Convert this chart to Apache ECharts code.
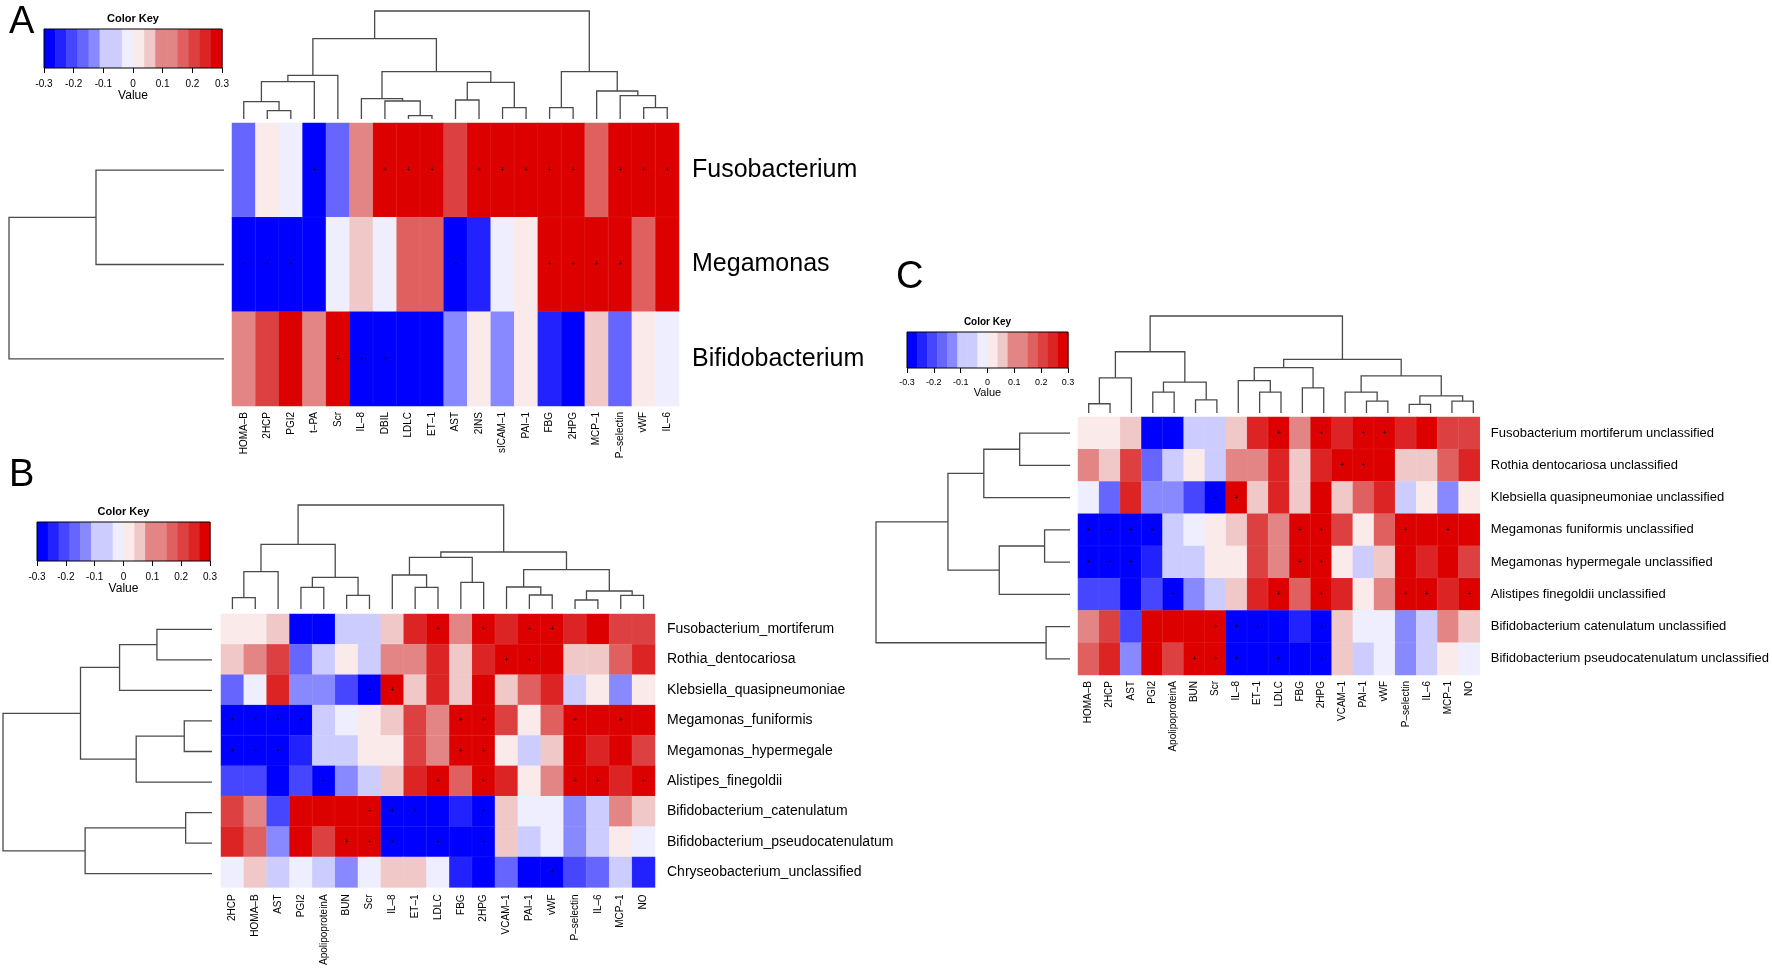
<!DOCTYPE html>
<html><head><meta charset="utf-8">
<script src="https://cdn.jsdelivr.net/npm/echarts@6/dist/echarts.min.js"></script>
<style>html,body{margin:0;padding:0;background:#fff}#c{width:1772px;height:968px}</style>
</head><body><div id="c"></div>
<script>
// ---------------- colour key ----------------
const keyBreaks = [-0.3,-0.2625,-0.225,-0.1875,-0.15,-0.1125,-0.075,-0.0375,0,0.0375,0.075,0.1125,0.15,0.1875,0.225,0.2625,0.3];
const keyColors = ['#0000FF','#2222FF','#4646FF','#6666FF','#8888FF','#CCCCFF','#CCCCFF','#EEEEFF',
                   '#FBEAEA','#F0C8C8','#E38585','#E38585','#E06060','#DC4040','#DC2424','#DD0000'];
const keyTicks = [-0.3,-0.2,-0.1,0,0.1,0.2,0.3];

// ---------------- panel A ----------------
const colsA = ['HOMA–B','2HCP','PGI2','t–PA','Scr','IL–8','DBIL','LDLC','ET–1','AST','2INS','sICAM–1','PAI–1','FBG','2HPG','MCP–1','P–selectin','vWF','IL–6'];
const rowsA = ['Fusobacterium','Megamonas','Bifidobacterium'];
const valA_Fusobacterium   = [-0.17,0.02,-0.02,-0.28,-0.17,0.11,0.28,0.28,0.28,0.21,0.28,0.28,0.28,0.28,0.28,0.17,0.28,0.28,0.28];
const valA_Megamonas       = [-0.28,-0.28,-0.28,-0.28,-0.02,0.06,-0.02,0.17,0.17,-0.28,-0.24,-0.02,0.02,0.28,0.28,0.28,0.28,0.17,0.28];
const valA_Bifidobacterium = [0.11,0.21,0.28,0.11,0.28,-0.28,-0.28,-0.28,-0.28,-0.13,0.02,-0.13,0.02,-0.24,-0.28,0.06,-0.17,0.02,-0.02];
const sigA = ['0001001110111110111','1110000001000111100','0000111000000000000'];
const colTreeA = [[[[[0,[1,2,8.3],17.3],3,37.3],4,43.7],[[5,[6,[7,8,3.3],18],20.3],[[9,10,19],[11,12,11.3],36.7],47.3],80.3],
                  [[13,14,11.3],[15,[16,[17,18,11.3],23.3],28],47.3],108];
const rowTreeA = [[0,1,128],2,215];

// ---------------- panel B ----------------
const colsB = ['2HCP','HOMA–B','AST','PGI2','ApolipoproteinA','BUN','Scr','IL–8','ET–1','LDLC','FBG','2HPG','VCAM–1','PAI–1','vWF','P–selectin','IL–6','MCP–1','NO'];
const rowsB = ['Fusobacterium_mortiferum','Rothia_dentocariosa','Klebsiella_quasipneumoniae','Megamonas_funiformis','Megamonas_hypermegale','Alistipes_finegoldii','Bifidobacterium_catenulatum','Bifidobacterium_pseudocatenulatum','Chryseobacterium_unclassified'];
const valB_Fuso  = [0.02,0.02,0.06,-0.28,-0.28,-0.08,-0.08,0.06,0.24,0.28,0.11,0.28,0.24,0.28,0.28,0.24,0.28,0.21,0.21];
const valB_Roth  = [0.06,0.11,0.21,-0.17,-0.08,0.02,-0.08,0.11,0.11,0.24,0.06,0.24,0.28,0.28,0.28,0.06,0.06,0.17,0.24];
const valB_Kleb  = [-0.17,-0.02,0.24,-0.13,-0.13,-0.21,-0.28,0.28,0.06,0.24,0.06,0.28,0.06,0.17,0.24,-0.08,0.02,-0.13,0.02];
const valB_MegF  = [-0.28,-0.28,-0.28,-0.28,-0.08,-0.02,0.02,0.06,0.21,0.11,0.28,0.28,0.21,0.02,0.17,0.28,0.28,0.28,0.28];
const valB_MegH  = [-0.28,-0.28,-0.28,-0.24,-0.08,-0.08,0.02,0.02,0.21,0.11,0.28,0.28,0.02,-0.08,0.06,0.28,0.24,0.28,0.21];
const valB_Alis  = [-0.21,-0.21,-0.28,-0.21,-0.28,-0.13,-0.08,0.06,0.24,0.28,0.17,0.28,0.24,0.02,0.11,0.28,0.28,0.24,0.28];
const valB_BifC  = [0.21,0.11,-0.21,0.28,0.28,0.28,0.28,-0.28,-0.28,-0.28,-0.24,-0.28,0.06,-0.02,-0.02,-0.13,-0.08,0.11,0.06];
const valB_BifP  = [0.24,0.17,-0.13,0.28,0.21,0.28,0.28,-0.28,-0.28,-0.28,-0.28,-0.28,0.06,-0.08,-0.02,-0.13,-0.08,0.02,-0.02];
const valB_Chry  = [-0.02,0.06,-0.08,-0.02,-0.08,-0.13,-0.02,0.06,0.06,-0.02,-0.24,-0.28,-0.17,-0.28,-0.28,-0.21,-0.17,-0.08,-0.24];
const sigB = ['0000000001010110000','0000000000001100000','0000001100000000000','1111000000110001010','1110000000110000000',
              '0000100001010001101','0000001110010000000','0000011101010000000','0000000000000010000'];
const colTreeB = [[[[0,1,11.3],2,37.3],[[3,4,21.7],[5,6,13.7],31.7],64.7],
                  [[[7,[8,9,21.7],34],[10,11,26.7],51.7],[[12,[13,14,14],22],[[15,16,9],[17,18,13.7],18],39.3],57],104];
const rowTreeB = [[[[0,1,55],2,92.3],[[3,4,27.7],5,75.7],131.3],[[6,7,26.3],8,126.7],208.7];

// ---------------- panel C ----------------
const colsC = ['HOMA–B','2HCP','AST','PGI2','ApolipoproteinA','BUN','Scr','IL–8','ET–1','LDLC','FBG','2HPG','VCAM–1','PAI–1','vWF','P–selectin','IL–6','MCP–1','NO'];
const rowsC = ['Fusobacterium mortiferum unclassified','Rothia dentocariosa unclassified','Klebsiella quasipneumoniae unclassified','Megamonas funiformis unclassified','Megamonas hypermegale unclassified','Alistipes finegoldii unclassified','Bifidobacterium catenulatum unclassified','Bifidobacterium pseudocatenulatum unclassified'];
const valC_Fuso  = [0.02,0.02,0.06,-0.28,-0.28,-0.08,-0.08,0.06,0.24,0.28,0.11,0.28,0.24,0.28,0.28,0.24,0.28,0.21,0.21];
const valC_Roth  = [0.11,0.06,0.21,-0.17,-0.08,0.02,-0.08,0.11,0.11,0.24,0.06,0.24,0.28,0.28,0.28,0.06,0.06,0.17,0.24];
const valC_Kleb  = [-0.02,-0.17,0.24,-0.13,-0.13,-0.21,-0.28,0.28,0.06,0.24,0.06,0.28,0.06,0.17,0.24,-0.08,0.02,-0.13,0.02];
const valC_MegF  = [-0.28,-0.28,-0.28,-0.28,-0.08,-0.02,0.02,0.06,0.21,0.11,0.28,0.28,0.21,0.02,0.17,0.28,0.28,0.28,0.28];
const valC_MegH  = [-0.28,-0.28,-0.28,-0.24,-0.08,-0.08,0.02,0.02,0.21,0.11,0.28,0.28,0.02,-0.08,0.06,0.28,0.24,0.28,0.21];
const valC_Alis  = [-0.21,-0.21,-0.28,-0.21,-0.28,-0.13,-0.08,0.06,0.24,0.28,0.17,0.28,0.24,0.02,0.11,0.28,0.28,0.24,0.28];
const valC_BifC  = [0.11,0.21,-0.21,0.28,0.28,0.28,0.28,-0.28,-0.28,-0.28,-0.24,-0.28,0.06,-0.02,-0.02,-0.13,-0.08,0.11,0.06];
const valC_BifP  = [0.17,0.24,-0.13,0.28,0.21,0.28,0.28,-0.28,-0.28,-0.28,-0.28,-0.28,0.06,-0.08,-0.02,-0.13,-0.08,0.02,-0.02];
const sigC = ['0000000001010110000','0000000000001100000','0000001100000000000','1111000000110001010','1110000000110000000',
              '0000100001010001101','0000001110010000000','0000011101010000000'];
const colTreeC = [[[[0,1,9.3],2,35.3],[[3,4,21],[5,6,13.3],31],61.7],
                  [[[7,[8,9,21],32.7],[10,11,25.3],45.7],[[12,[13,14,12],21],[[15,16,8.7],[17,18,12],17.3],37.3],54],97.7];
const rowTreeC = [[[[0,1,50.5],2,86.5],[[3,4,25.5],5,71],122.5],[6,7,24],194.7];

// ---------------- layout ----------------
const FONT = '"Liberation Sans", Arial, Helvetica, sans-serif';
const panels = [
  {letter:'A', cols:colsA, rows:rowsA, values:[valA_Fusobacterium,valA_Megamonas,valA_Bifidobacterium], sig:sigA,
   colTree:colTreeA, rowTree:rowTreeA,
   L:{heat:{left:232,top:123,width:447,height:283}, colTop:11, colBottom:119, rowLeft:9, rowRight:224,
      key:{left:44,top:29,width:178,height:39}, keyTitleY:19, letterX:9, letterY:23,
      rowFont:25, rowGap:13, colFont:10, colGap:6, tickFont:10, tickGap:11, valueFont:12, valueGap:20, titleFont:11}},
  {letter:'B', cols:colsB, rows:rowsB, values:[valB_Fuso,valB_Roth,valB_Kleb,valB_MegF,valB_MegH,valB_Alis,valB_BifC,valB_BifP,valB_Chry], sig:sigB,
   colTree:colTreeB, rowTree:rowTreeB,
   L:{heat:{left:221,top:614,width:434,height:275}, colTop:505, colBottom:609, rowLeft:3, rowRight:212,
      key:{left:37,top:522,width:173,height:39}, keyTitleY:512, letterX:9, letterY:476,
      rowFont:14, rowGap:12, colFont:10, colGap:7, tickFont:10, tickGap:11, valueFont:12, valueGap:20, titleFont:11}},
  {letter:'C', cols:colsC, rows:rowsC, values:[valC_Fuso,valC_Roth,valC_Kleb,valC_MegF,valC_MegH,valC_Alis,valC_BifC,valC_BifP], sig:sigC,
   colTree:colTreeC, rowTree:rowTreeC,
   L:{heat:{left:1078,top:417,width:406,height:258}, colTop:316, colBottom:413, rowLeft:876, rowRight:1070,
      key:{left:907,top:332,width:161,height:36}, keyTitleY:322, letterX:896, letterY:278,
      rowFont:13, rowGap:11, colFont:10, colGap:6, tickFont:9, tickGap:10, valueFont:11, valueGap:18, titleFont:10}}
];

// ---------------- build ----------------
const grid=[], xAxis=[], yAxis=[], series=[], graphic=[], heatIdx=[];
const LINE = {stroke:'#4a4a4a', lineWidth:1.3, fill:null};

function flatten(tree){
  const segs=[];
  function rec(n){
    if (typeof n === 'number') return {p:n, h:0};
    const a = rec(n[0]), b = rec(n[1]);
    segs.push([a.p, a.h, b.p, b.h, n[2]]);
    return {p:(a.p+b.p)/2, h:n[2]};
  }
  const r = rec(tree);
  return {segs, root:r.h};
}
function hidden(){ return {show:false}; }

panels.forEach(P => {
  const L = P.L, nC = P.cols.length, nR = P.rows.length;
  // heatmap
  grid.push({left:L.heat.left, top:L.heat.top, width:L.heat.width, height:L.heat.height});
  let gi = grid.length-1;
  xAxis.push({gridIndex:gi, type:'category', data:P.cols, position:'bottom',
    axisLine:hidden(), axisTick:hidden(), splitLine:hidden(),
    axisLabel:{rotate:90, interval:0, fontSize:L.colFont, color:'#000', margin:L.colGap, fontFamily:FONT}});
  yAxis.push({gridIndex:gi, type:'category', data:P.rows, inverse:true, position:'right',
    axisLine:hidden(), axisTick:hidden(), splitLine:hidden(),
    axisLabel:{interval:0, fontSize:L.rowFont, color:'#000', margin:L.rowGap, fontFamily:FONT}});
  const data=[];
  P.values.forEach((row,r)=>row.forEach((v,c)=>data.push([c, r, v, +P.sig[r][c]])));
  heatIdx.push(series.length);
  series.push({type:'heatmap', xAxisIndex:xAxis.length-1, yAxisIndex:yAxis.length-1, data,
    itemStyle:{borderColor:'rgba(255,255,255,0.12)', borderWidth:0.5},
    label:{show:true, formatter:p=>p.value[3]?'+':'', fontSize:7, color:'#000', fontFamily:FONT},
    emphasis:{disabled:true}, silent:true});

  // column dendrogram
  const ct = flatten(P.colTree);
  grid.push({left:L.heat.left, top:L.colTop, width:L.heat.width, height:L.colBottom-L.colTop});
  gi = grid.length-1;
  xAxis.push({gridIndex:gi, type:'value', min:-0.5, max:nC-0.5, show:false});
  yAxis.push({gridIndex:gi, type:'value', min:0, max:ct.root, show:false});
  series.push({type:'custom', xAxisIndex:xAxis.length-1, yAxisIndex:yAxis.length-1, data:ct.segs, silent:true, clip:false,
    renderItem:(params, api)=>{
      const x1=api.value(0), h1=api.value(1), x2=api.value(2), h2=api.value(3), hm=api.value(4);
      return {type:'polyline', shape:{points:[api.coord([x1,h1]),api.coord([x1,hm]),api.coord([x2,hm]),api.coord([x2,h2])]}, style:LINE};
    }});

  // row dendrogram
  const rt = flatten(P.rowTree);
  grid.push({left:L.rowLeft, top:L.heat.top, width:L.rowRight-L.rowLeft, height:L.heat.height});
  gi = grid.length-1;
  xAxis.push({gridIndex:gi, type:'value', min:0, max:rt.root, inverse:true, show:false});
  yAxis.push({gridIndex:gi, type:'value', min:-0.5, max:nR-0.5, inverse:true, show:false});
  series.push({type:'custom', xAxisIndex:xAxis.length-1, yAxisIndex:yAxis.length-1, data:rt.segs, silent:true, clip:false,
    encode:{x:[1,3,4], y:[0,2]},
    renderItem:(params, api)=>{
      const y1=api.value(0), h1=api.value(1), y2=api.value(2), h2=api.value(3), hm=api.value(4);
      return {type:'polyline', shape:{points:[api.coord([h1,y1]),api.coord([hm,y1]),api.coord([hm,y2]),api.coord([h2,y2])]}, style:LINE};
    }});

  // colour key
  grid.push({left:L.key.left, top:L.key.top, width:L.key.width, height:L.key.height, show:true,
    borderColor:'#000', borderWidth:1, backgroundColor:'transparent', z:5});
  gi = grid.length-1;
  xAxis.push({gridIndex:gi, type:'value', min:keyTicks[0], max:keyTicks[keyTicks.length-1], interval:0.1,
    axisLine:hidden(), splitLine:hidden(),
    axisTick:{show:true, length:5, lineStyle:{color:'#000', width:1}},
    axisLabel:{fontSize:L.tickFont, color:'#000', margin:L.tickGap, fontFamily:FONT,
      formatter:v=>String(Math.round(v*10)/10)},
    name:'Value', nameLocation:'middle', nameGap:L.valueGap,
    nameTextStyle:{fontSize:L.valueFont, color:'#000', fontFamily:FONT}});
  yAxis.push({gridIndex:gi, type:'value', min:0, max:1, show:false});
  const keyData = keyColors.map((c,i)=>[keyBreaks[i], keyBreaks[i+1], i]);
  series.push({type:'custom', xAxisIndex:xAxis.length-1, yAxisIndex:yAxis.length-1, data:keyData, silent:true,
    encode:{x:[0,1], y:[]},
    renderItem:(params, api)=>{
      const a = api.coord([api.value(0), 1]), b = api.coord([api.value(1), 0]);
      return {type:'rect', shape:{x:a[0], y:a[1], width:b[0]-a[0]+0.5, height:b[1]-a[1]},
              style:{fill:keyColors[api.value(2)], stroke:null}};
    }});

  graphic.push({type:'text', x:L.key.left+L.key.width/2, y:L.keyTitleY,
    style:{text:'Color Key', fontSize:L.titleFont, fontWeight:'bold', fontFamily:FONT, fill:'#000',
           align:'center', verticalAlign:'middle', textAlign:'center', textVerticalAlign:'middle'}});
  graphic.push({type:'text', x:L.letterX, y:L.letterY,
    style:{text:P.letter, fontSize:38, fontFamily:FONT, fill:'#000',
           align:'left', verticalAlign:'middle', textAlign:'left', textVerticalAlign:'middle'}});
});

const option = {
  animation:false,
  backgroundColor:'#fff',
  grid, xAxis, yAxis, series, graphic,
  visualMap:{type:'piecewise', show:false, dimension:2, seriesIndex:heatIdx,
    pieces:keyColors.map((c,i)=>i===keyColors.length-1
      ? {gte:keyBreaks[i], lte:keyBreaks[i+1], color:c}
      : {gte:keyBreaks[i], lt:keyBreaks[i+1], color:c})}
};
const chart = echarts.init(document.getElementById('c'));
chart.setOption(option);
</script></body></html>
